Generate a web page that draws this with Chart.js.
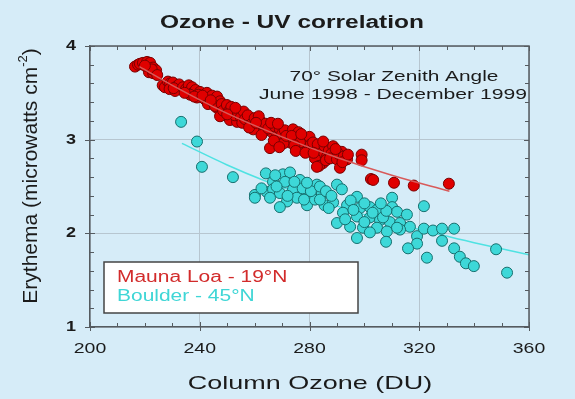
<!DOCTYPE html>
<html>
<head>
<meta charset="utf-8">
<script src="https://cdn.jsdelivr.net/npm/chart.js@4.4.0/dist/chart.umd.min.js"></script>
<style>
  html, body { margin: 0; padding: 0; background: #d6ecf8; }
  #wrap { width: 575px; height: 399px; }
</style>
</head>
<body>
<div id="wrap"><canvas id="chart" width="575" height="399"></canvas></div>
<script>
// [column ozone (DU), erythema]
const maunaLoa = [
  [216.4,3.78],[217.5,3.80],[218.2,3.81],[219.3,3.82],[220.8,3.83],[221.9,3.82],[223.0,3.77],[224.1,3.74],
  [221.5,3.72],[223.0,3.71],[222.5,3.75],[220.0,3.79],[224.5,3.69],
  [226.5,3.58],[227.3,3.56],[228.4,3.62],[229.2,3.60],[230.2,3.61],[231.7,3.57],[229.0,3.54],[231.0,3.52],[232.5,3.59],[230.5,3.55],
  [233.9,3.56],[235.0,3.54],[236.0,3.58],[237.2,3.56],[237.5,3.50],[238.5,3.53],[239.0,3.45],[240.1,3.51],[236.5,3.48],[234.5,3.50],[239.5,3.48],[238.0,3.46],
  [241.9,3.43],[242.6,3.50],[243.5,3.45],[244.5,3.47],[245.0,3.40],[246.3,3.46],[247.4,3.41],[246.3,3.34],[247.4,3.25],[243.0,3.38],[245.5,3.36],[241.0,3.47],[244.0,3.42],[248.0,3.38],[248.5,3.31],
  [249.9,3.37],[251.0,3.21],[252.1,3.32],[253.6,3.19],[250.5,3.30],[251.5,3.35],[252.8,3.26],[254.0,3.28],[255.0,3.24],[256.0,3.30],[255.5,3.18],[253.0,3.34],[256.5,3.22],[250.0,3.27],
  [258.3,3.21],[257.5,3.26],[259.0,3.17],[260.0,3.23],[261.0,3.14],[262.0,3.20],[263.0,3.14],[263.5,3.09],[261.5,3.25],[259.5,3.11],[264.0,3.17],[258.0,3.13],[262.5,3.05],[260.5,3.18],
  [265.6,2.91],[266.7,3.07],[265.0,3.12],[267.5,3.14],[268.0,3.03],[269.2,3.11],[270.0,3.06],[271.0,3.10],[272.0,3.00],[272.9,2.97],[266.0,3.18],[268.5,3.17],[270.5,2.96],[271.5,3.04],[267.0,2.99],[269.0,2.92],
  [274.0,3.11],[275.4,3.03],[276.0,3.08],[277.6,2.93],[278.0,3.00],[279.0,2.96],[280.0,3.03],[273.5,3.04],[276.5,2.97],[274.5,2.94],[279.5,2.90],[277.0,3.06],[280.5,2.95],[275.0,2.88],[278.5,2.86],
  [281.3,2.97],[282.7,2.89],[283.0,2.95],[284.9,2.75],[284.0,2.85],[285.5,2.93],[286.4,2.82],[287.0,2.88],[288.6,2.93],[282.0,2.80],[283.5,2.72],[286.0,2.78],[288.0,2.85],[285.0,2.98],[287.5,2.80],[281.5,2.86],[282.7,2.71],
  [290.0,2.79],[291.1,2.70],[291.8,2.87],[293.7,2.79],[290.5,2.85],[292.5,2.82],[289.5,2.90],[292.0,2.76],[294.0,2.84],
  [299.0,2.84],[299.0,2.78],[302.4,2.58],[303.2,2.57],[310.8,2.54],[318.0,2.51],[330.8,2.53]
];
const boulder = [
  [233.2,3.19],[239.0,2.98],[240.8,2.71],[252.1,2.60],[260.1,2.41],[260.1,2.38],[264.1,2.64],
  [264.5,2.44],[266.7,2.55],[266.7,2.47],[269.2,2.43],[270.3,2.63],[272.9,2.65],[271.1,2.55],[276.5,2.57],[274.0,2.47],[275.4,2.38],
  [279.1,2.41],[271.8,2.34],[269.2,2.28],[279.1,2.30],[282.0,2.36],[282.7,2.52],[265.6,2.38],[268.0,2.50],[272.0,2.40],[277.5,2.48],
  [280.5,2.45],[278.0,2.36],[284.5,2.42],[283.8,2.50],[285.5,2.30],[274.5,2.55],[267.5,2.62],[262.5,2.48],
  [279.1,2.54],[290.0,2.52],[291.8,2.47],[297.3,2.39],[310.1,2.38],[310.1,2.28],[311.9,2.23],[315.5,2.20],[321.7,2.29],
  [283.8,2.36],[288.6,2.33],[293.7,2.30],[298.4,2.27],[302.0,2.28],[304.6,2.25],[292.2,2.22],[297.3,2.18],[302.0,2.17],
  [305.7,2.14],[309.3,2.12],[313.0,2.11],[316.6,2.07],[290.0,2.11],[294.8,2.07],[299.5,2.06],[304.6,2.06],[308.2,2.02],
  [313.0,2.04],[306.8,2.17],[297.3,1.95],[302.0,2.01],[311.9,2.06],[319.2,1.97],[321.7,2.05],[325.0,2.03],[328.3,2.05],
  [332.7,2.05],[319.2,1.89],[307.9,1.91],[315.9,1.84],[328.3,1.92],[332.7,1.84],[322.8,1.74],[334.8,1.75],[337.0,1.68],
  [339.9,1.65],[348.0,1.83],[352.0,1.58],
  [286.0,2.45],[288.0,2.40],[295.0,2.35],[300.0,2.32],[296.0,2.25],[300.0,2.12],[287.0,2.27],[293.0,2.15],[303.0,2.22],[308.0,2.24],[306.0,2.32]
];
const maunaLoaFit = [[218,3.78],[230,3.58],[250,3.28],[270,3.03],[290,2.81],[310,2.62],[331,2.45]];
const boulderFit = [[233.5,2.96],[250,2.73],[263,2.57],[280,2.39],[300,2.20],[320,2.04],[340,1.90],[360,1.77]];
const xTicks = [200, 240, 280, 320, 360];
const yTicks = [1, 2, 3, 4];
const seriesNames = ['Mauna Loa - 19\u00b0N', 'Boulder - 45\u00b0N'];

const FONT = '"Liberation Sans", Arial, sans-serif';
const BG = '#d6ecf8';
const AXIS = '#555b60';
const INK = '#1b1b1b';
const SX = 1.36; // the source text is drawn wide
const RED = '#e00000', RED_EDGE = '#7a0000';
const CYAN = '#3dd8d8', CYAN_EDGE = '#17706f';

const toXY = arr => arr.map(p => ({ x: p[0], y: p[1] }));

function wideText(ctx, text, x, y, align, sx) {
  ctx.save();
  ctx.translate(x, y);
  ctx.scale(sx, 1);
  ctx.textAlign = align;
  ctx.fillText(text, 0, 0);
  ctx.restore();
}

const decor = {
  id: 'decor',
  beforeDraw(chart) {
    const ctx = chart.ctx;
    ctx.save();
    ctx.fillStyle = BG;
    ctx.fillRect(0, 0, chart.width, chart.height);
    ctx.restore();
  },
  afterDraw(chart) {
    const ctx = chart.ctx;
    const a = chart.chartArea;
    const xs = chart.scales.x, ys = chart.scales.y;
    ctx.save();
    ctx.strokeStyle = AXIS;
    ctx.lineWidth = 1.5;
    // frame: top and right
    ctx.beginPath();
    ctx.moveTo(a.left, a.top); ctx.lineTo(a.right, a.top); ctx.lineTo(a.right, a.bottom);
    ctx.stroke();
    ctx.lineWidth = 1;
    ctx.beginPath();
    for (let v = 200; v <= 360; v += 10) {
      const px = Math.round(xs.getPixelForValue(v)) + 0.5;
      const major = v % 40 === 0;
      const len = major ? 5 : 4;
      ctx.moveTo(px, a.bottom + (major ? 4 : 0)); ctx.lineTo(px, a.bottom - len);
      ctx.moveTo(px, a.top); ctx.lineTo(px, a.top + len);
    }
    for (let k = 0; k <= 15; k++) {
      const v = 1 + k * 0.2;
      const py = Math.round(ys.getPixelForValue(v)) + 0.5;
      const major = k % 5 === 0;
      const len = major ? 5 : 4;
      ctx.moveTo(a.left - (major ? 5 : 0), py); ctx.lineTo(a.left + len, py);
      ctx.moveTo(a.right, py); ctx.lineTo(a.right - len, py);
    }
    ctx.stroke();

    ctx.fillStyle = INK;
    ctx.textBaseline = 'middle';

    // tick labels
    ctx.font = '15px ' + FONT;
    xTicks.forEach(v => wideText(ctx, String(v), xs.getPixelForValue(v), 349, 'center', 1.3));
    ctx.font = 'bold 15px ' + FONT;
    yTicks.forEach(v => wideText(ctx, String(v), 76, ys.getPixelForValue(v), 'right', 1.2));

    // title
    ctx.font = 'bold 18px ' + FONT;
    wideText(ctx, 'Ozone - UV correlation', 292, 23, 'center', SX);

    // annotation
    ctx.font = '15px ' + FONT;
    wideText(ctx, '70\u00b0 Solar Zenith Angle', 394, 77, 'center', 1.39);
    wideText(ctx, 'June 1998 - December 1999', 393, 95, 'center', 1.41);

    // x title
    ctx.font = '19px ' + FONT;
    wideText(ctx, 'Column Ozone (DU)', 310, 384, 'center', 1.42);

    // y title, rotated, with superscript
    ctx.save();
    ctx.translate(31, 176);
    ctx.rotate(-Math.PI / 2);
    const main = 'Erythema (microwatts cm';
    const sup = '-2';
    ctx.font = '21px ' + FONT;
    const w1 = ctx.measureText(main).width;
    const w3 = ctx.measureText(')').width;
    ctx.font = '13px ' + FONT;
    const w2 = ctx.measureText(sup).width;
    const start = -(w1 + w2 + w3) / 2;
    ctx.textAlign = 'left';
    ctx.font = '21px ' + FONT;
    ctx.fillText(main, start, 0);
    ctx.font = '13px ' + FONT;
    ctx.fillText(sup, start + w1, -8);
    ctx.font = '21px ' + FONT;
    ctx.fillText(')', start + w1 + w2, 0);
    ctx.restore();

    // legend box
    ctx.fillStyle = '#ffffff';
    ctx.fillRect(104, 262, 254, 51);
    ctx.strokeStyle = '#444';
    ctx.lineWidth = 1.5;
    ctx.strokeRect(104, 262, 254, 51);
    ctx.font = '16px ' + FONT;
    ctx.fillStyle = '#d22b2b';
    wideText(ctx, seriesNames[0], 117, 278, 'left', 1.31);
    ctx.fillStyle = '#3fd6d6';
    wideText(ctx, seriesNames[1], 117, 297, 'left', 1.31);
    ctx.restore();
  }
};

new Chart(document.getElementById('chart'), {
  type: 'scatter',
  data: {
    datasets: [
      {
        label: seriesNames[0],
        data: toXY(maunaLoa),
        backgroundColor: RED,
        borderColor: RED_EDGE,
        borderWidth: 1,
        pointRadius: 5.5,
        order: 1
      },
      {
        label: seriesNames[1],
        data: toXY(boulder),
        backgroundColor: CYAN,
        borderColor: CYAN_EDGE,
        borderWidth: 1,
        pointRadius: 5.5,
        order: 2
      },
      {
        type: 'line',
        label: 'fit1',
        data: toXY(maunaLoaFit),
        borderColor: '#d85a5a',
        borderWidth: 1.5,
        pointRadius: 0,
        cubicInterpolationMode: 'monotone',
        fill: false,
        order: 0
      },
      {
        type: 'line',
        label: 'fit2',
        data: toXY(boulderFit),
        borderColor: '#4fe2e2',
        borderWidth: 1.5,
        pointRadius: 0,
        cubicInterpolationMode: 'monotone',
        fill: false,
        order: 3
      }
    ]
  },
  options: {
    responsive: false,
    animation: false,
    devicePixelRatio: 1,
    layout: { padding: { top: 46, right: 46, left: 0, bottom: 0 } },
    plugins: {
      legend: { display: false },
      title: { display: false },
      tooltip: { enabled: false }
    },
    scales: {
      x: {
        type: 'linear',
        min: 200, max: 360,
        afterFit(s) { s.height = 72; },
        afterBuildTicks(s) { s.ticks = xTicks.map(v => ({ value: v })); },
        grid: { color: '#b7c6d0', lineWidth: 1, drawTicks: false },
        border: { color: AXIS, width: 1.5 },
        ticks: { display: false }
      },
      y: {
        type: 'linear',
        min: 1, max: 4,
        afterFit(s) { s.width = 90; },
        afterBuildTicks(s) { s.ticks = yTicks.map(v => ({ value: v })); },
        grid: { color: '#b7c6d0', lineWidth: 1, drawTicks: false },
        border: { color: AXIS, width: 1.5 },
        ticks: { display: false }
      }
    }
  },
  plugins: [decor]
});
</script>
</body>
</html>
